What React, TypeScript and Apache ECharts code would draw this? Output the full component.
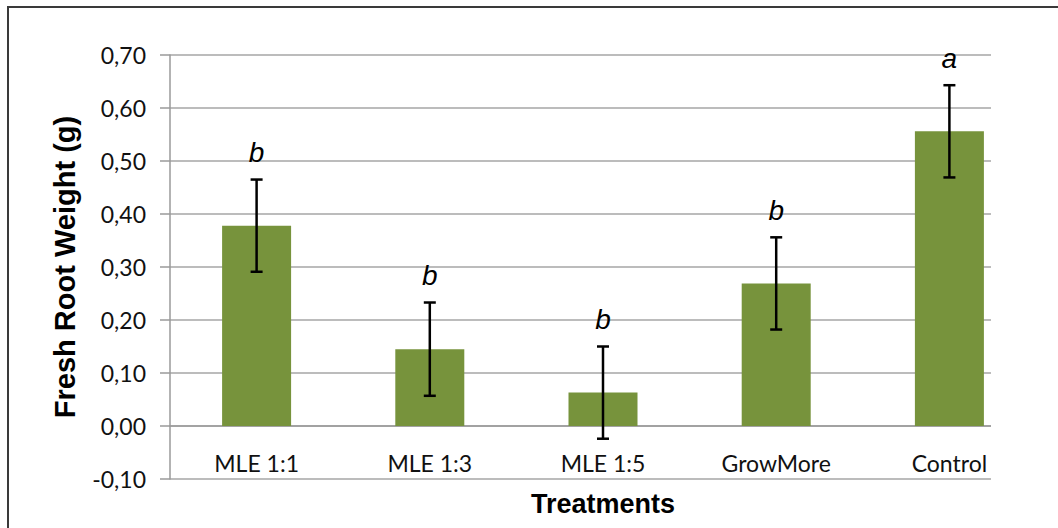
import React, { useEffect, useRef } from "react";
import * as echarts from "echarts";

const categories = ["MLE 1:1", "MLE 1:3", "MLE 1:5", "GrowMore", "Control"];
const means = [0.378, 0.145, 0.063, 0.269, 0.556];
const errors = [0.087, 0.088, 0.087, 0.087, 0.087];
const letters = ["b", "b", "b", "b", "a"];
const yTicks = { min: -0.1, max: 0.7, interval: 0.1 };
const yTitle = "Fresh Root Weight (g)";
const xTitle = "Treatments";

export default function App() {
  const ref = useRef<HTMLDivElement>(null);
  useEffect(() => {
    if (!ref.current) return;
    const chart = echarts.init(ref.current, undefined, { renderer: "svg" });
    const errData = means.map((m, i) => [i, m - errors[i], m + errors[i]]);
    chart.setOption({
      animation: false,
      backgroundColor: "#ffffff",
      grid: {
        left: 170,
        top: 55,
        width: 866,
        height: 424,
        containLabel: false,
        outerBoundsMode: "none",
      },
      xAxis: {
        type: "category",
        data: categories,
        name: xTitle,
        nameLocation: "middle",
        nameGap: 11,
        nameMoveOverlap: false,
        nameTextStyle: { fontFamily: "Liberation Sans", fontWeight: "bold", fontSize: 27, color: "#000" },
        axisLine: { onZero: true, lineStyle: { color: "#9a9a9a", width: 1.5 } },
        axisTick: { show: false },
        axisLabel: { fontFamily: "Lato", fontSize: 23, color: "#111", margin: -28 },
        splitLine: { show: false },
      },
      yAxis: {
        type: "value",
        min: yTicks.min,
        max: yTicks.max,
        interval: yTicks.interval,
        name: yTitle,
        nameLocation: "middle",
        nameGap: 91,
        nameRotate: 90,
        nameMoveOverlap: false,
        nameTextStyle: { fontFamily: "Liberation Sans", fontWeight: "bold", fontSize: 29, color: "#000" },
        axisLine: { show: true, lineStyle: { color: "#9a9a9a", width: 1.5 } },
        axisTick: { show: true, inside: false, length: 10, lineStyle: { color: "#9a9a9a", width: 1.5 } },
        axisLabel: {
          fontFamily: "Lato",
          fontSize: 23,
          color: "#111",
          margin: 24,
          formatter: (v: number) => (Math.abs(v) < 1e-9 ? 0 : v).toFixed(2).replace(".", ","),
        },
        splitLine: { show: true, lineStyle: { color: "#a6a6a6", width: 1.5 } },
      },
      series: [
        {
          type: "bar",
          data: means,
          barWidth: 69,
          itemStyle: { color: "#77933C" },
          z: 2,
        },
        {
          type: "custom",
          data: errData,
          z: 5,
          renderItem: (params: any, api: any) => {
            const x = api.value(0);
            const lo = api.coord([x, api.value(1)]);
            const hi = api.coord([x, api.value(2)]);
            const cap = 6;
            const st = { stroke: "#000", lineWidth: 2.5 };
            return {
              type: "group",
              children: [
                { type: "line", shape: { x1: hi[0], y1: hi[1], x2: lo[0], y2: lo[1] }, style: st },
                { type: "line", shape: { x1: hi[0] - cap, y1: hi[1], x2: hi[0] + cap, y2: hi[1] }, style: st },
                { type: "line", shape: { x1: lo[0] - cap, y1: lo[1], x2: lo[0] + cap, y2: lo[1] }, style: st },
                {
                  type: "text",
                  x: hi[0],
                  y: hi[1] - 27,
                  style: {
                    text: letters[params.dataIndex],
                    fontFamily: "Liberation Sans",
                    fontStyle: "italic",
                    fontSize: 28,
                    fill: "#000",
                    align: "center",
                    verticalAlign: "middle",
                  },
                },
              ],
            };
          },
        },
      ],
      graphic: [
        {
          type: "rect",
          shape: { x: 991, y: 40, width: 80, height: 450 },
          style: { fill: "#ffffff" },
          z: 100,
          silent: true,
        },
        {
          type: "rect",
          shape: { x: 8, y: 7, width: 1200, height: 700 },
          style: { fill: "none", stroke: "#3a3a3a", lineWidth: 2 },
          z: 101,
          silent: true,
        },
      ],
    });
    return () => chart.dispose();
  }, []);
  return (
    <div
      ref={ref}
      style={{ position: "fixed", left: 0, top: 0, width: 1058, height: 528 }}
    />
  );
}
